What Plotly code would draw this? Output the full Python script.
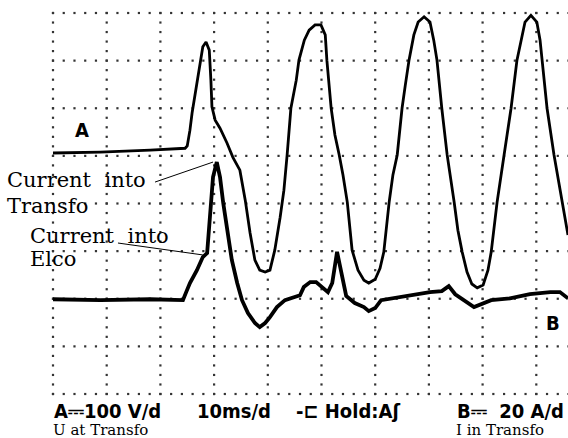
import numpy as np
import plotly.graph_objects as go

# ---- data (time in ms, channel A in volts, channel B in amps) ----
t_a = [0.0, 8.8, 18.1, 24.6, 25.0, 25.5, 25.9, 26.4, 27.4, 27.9, 28.5, 29.1, 29.4, 29.6,
       30.2, 31.1, 32.4, 33.5, 34.8, 35.8, 36.7, 37.6, 38.5, 39.5, 40.4, 41.3, 42.3, 43.0,
       43.6, 44.3, 45.3, 45.8, 46.8, 47.7, 48.8, 49.9, 50.7, 51.0, 51.8, 52.5, 53.3, 54.0,
       54.8, 55.7, 56.8, 57.9, 58.8, 60.0, 60.9, 61.6, 62.6, 63.3, 64.1, 65.0, 65.6, 66.3,
       67.2, 68.0, 69.1, 70.2, 70.9, 71.5, 72.4, 73.4, 74.7, 75.4, 76.2, 77.1, 78.0, 79.0,
       80.1, 81.0, 81.6, 82.7, 84.0, 85.3, 86.4, 87.2, 87.9, 89.0, 90.1, 90.7, 91.1, 92.0,
       93.3, 94.8, 95.9]
u_transfo = [106, 108, 112, 116, 121, 154, 190, 224, 301, 329, 339, 322, 259, 203,
             175, 158, 127, 97, 70, 7, -62, -119, -140, -144, -140, -98, -29, 28,
             102, 200, 259, 301, 343, 364, 375, 375, 354, 301, 200, 144, 102, 60,
             3, -98, -140, -161, -167, -159, -136, -102, 3, 60, 102, 200, 248, 301,
             354, 381, 392, 381, 343, 301, 200, 102, 3, -56, -102, -144, -169, -177,
             -171, -140, -102, 3, 102, 200, 301, 347, 381, 395, 381, 343, 301, 200,
             102, 3, -66]

t_b = [0.0, 8.8, 18.1, 24.2, 24.8, 25.5, 26.8, 27.9, 28.7, 29.2, 29.8, 30.5, 31.1, 31.7,
       32.6, 33.3, 34.3, 35.2, 36.3, 37.6, 38.5, 39.5, 40.4, 41.7, 43.2, 44.7, 46.0, 46.7,
       47.9, 49.0, 49.9, 51.2, 52.0, 52.9, 53.4, 54.6, 56.2, 57.9, 58.8, 60.0, 61.1, 64.6,
       70.2, 72.4, 73.7, 74.9, 76.5, 78.4, 81.6, 85.1, 88.8, 92.6, 94.4, 95.9]
i_transfo = [-40.2, -40.6, -40.2, -40.6, -37.2, -33.4, -28.0, -22.5, -20.8, -5.6, 11.1, 17.4, 11.1, 0.2,
             -12.4, -23.7, -33.4, -40.6, -46.0, -50.2, -51.9, -50.2, -47.7, -43.5, -40.6, -39.3, -38.5, -35.1,
             -33.0, -33.0, -34.7, -37.2, -33.4, -20.3, -25.8, -38.8, -41.8, -43.5, -45.2, -43.9, -40.6, -39.3,
             -37.2, -36.8, -34.7, -38.1, -40.6, -43.5, -40.6, -39.8, -38.1, -37.2, -37.2, -39.8]

# ---- scope settings ----
MS_PER_DIV, V_PER_DIV, A_PER_DIV = 10, 100, 20
N_XDIV, N_YDIV, SUBDIV = 10, 8, 5

# ---- figure geometry ----
W, H = 568, 438
PX_DIV_X, PX_DIV_Y = 53.7, 47.625
GRID_L, GRID_T = 53, 13
ML, MR, MT, MB = 50, 0, 10, 41
PW, PH = W - ML - MR, H - MT - MB
x_lo = -(GRID_L - ML) / PX_DIV_X * MS_PER_DIV
x_hi = (W - GRID_L) / PX_DIV_X * MS_PER_DIV
y_half = (N_YDIV / 2) + (GRID_T - MT) / PX_DIV_Y

SCOPE_FONT = "DejaVu Sans Condensed, DejaVu Sans, sans-serif"
SERIF = "DejaVu Serif, serif"


def px(x):
    return (x - ML) / PW


def py(y):
    return (H - MB - y) / PH


fig = go.Figure()

# graticule: dotted lines, 5 dots per division
step_x = MS_PER_DIV / SUBDIV
step_y = V_PER_DIV / SUBDIV
gx, gy = [], []
h_dots = np.arange(0, N_XDIV * MS_PER_DIV + 0.01, step_x)
for k in range(-N_YDIV // 2, N_YDIV // 2 + 1):
    gx.extend(h_dots)
    gy.extend([k * V_PER_DIV] * len(h_dots))
v_dots = np.arange(-N_YDIV / 2 * V_PER_DIV, N_YDIV / 2 * V_PER_DIV + 0.01, step_y)
for k in range(0, N_XDIV + 1):
    gx.extend([k * MS_PER_DIV] * len(v_dots))
    gy.extend(v_dots)
fig.add_trace(go.Scatter(x=gx, y=gy, mode="markers", hoverinfo="skip",
                         marker=dict(symbol="square", size=2.2, color="#333",
                                     line=dict(width=0))))

fig.add_trace(go.Scatter(x=t_a, y=u_transfo, mode="lines", name="U at Transfo",
                         line=dict(color="#000", width=2.8), yaxis="y"))
fig.add_trace(go.Scatter(x=t_b, y=i_transfo, mode="lines", name="I in Transfo",
                         line=dict(color="#000", width=3.8), yaxis="y2"))

fig.update_layout(
    width=W, height=H, showlegend=False,
    paper_bgcolor="white", plot_bgcolor="white",
    margin=dict(l=ML, r=MR, t=MT, b=MB, autoexpand=False),
    xaxis=dict(range=[x_lo, x_hi], showgrid=False, zeroline=False,
               showticklabels=False, ticks="", showline=False),
    yaxis=dict(range=[-y_half * V_PER_DIV, y_half * V_PER_DIV], showgrid=False,
               zeroline=False, showticklabels=False, ticks="", showline=False),
    yaxis2=dict(range=[-y_half * A_PER_DIV, y_half * A_PER_DIV], overlaying="y",
                showgrid=False, zeroline=False, showticklabels=False, ticks="",
                showline=False),
)

# leader lines (in data units: ms, volts)
fig.add_shape(type="line", xref="x", yref="y", x0=19.0, y0=45, x1=29.8, y1=87,
              line=dict(color="#000", width=1))
fig.add_shape(type="line", xref="x", yref="y", x0=12.1, y0=-83, x1=27.9, y1=-108,
              line=dict(color="#000", width=1))


def note(text, x, y, font, size, bold=False, xanchor="left"):
    fig.add_annotation(text=text, xref="paper", yref="paper", x=px(x), y=py(y),
                       xanchor=xanchor, yanchor="middle", showarrow=False,
                       font=dict(family=font, size=size, color="#000",
                                 weight="bold" if bold else "normal"))


note("A", 73, 130, SCOPE_FONT, 20, bold=True)
note("B", 544, 323, SCOPE_FONT, 20, bold=True)
note("Current  into", 5, 180, SERIF, 21)
note("Transfo", 5, 206, SERIF, 21)
note("Current  into", 28, 236, SERIF, 21)
note("Elco", 28, 259, SERIF, 21)

note("A⎓100 V/d", 52, 411, SCOPE_FONT, 20, bold=True)
note("10ms/d", 195, 411, SCOPE_FONT, 20, bold=True)
note("-⊏ Hold:Aʃ", 294, 411, SCOPE_FONT, 20, bold=True)
note("B⎓  20 A/d", 455, 411, SCOPE_FONT, 20, bold=True)
note("U at Transfo", 51, 430, SERIF, 15)
note("I in Transfo", 454, 430, SERIF, 15)

fig.write_html("out.html", config={"displayModeBar": False},
               post_script="document.body.style.margin='0';")
